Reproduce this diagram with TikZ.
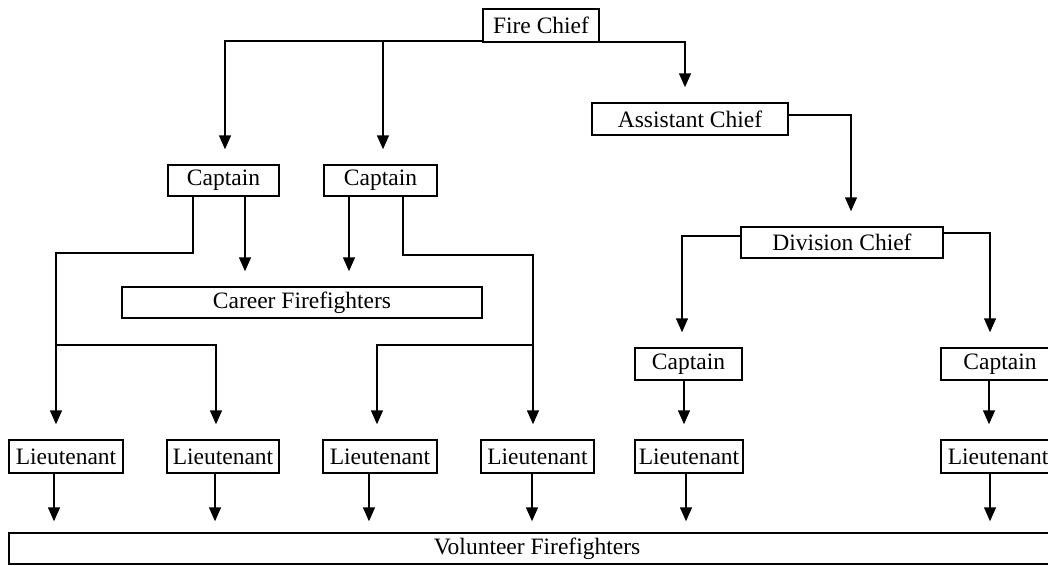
\documentclass[tikz,border=0pt]{standalone}
\usepackage{fontspec}
\setmainfont{Liberation Serif}
\usetikzlibrary{arrows.meta}
\begin{document}
\begin{tikzpicture}[x=1pt,y=-1pt,
  box/.style={draw, line width=1.5pt, inner sep=0pt, minimum height=31pt,
    font=\fontsize{23.5}{26}\selectfont},
  arr/.style={line width=1.5pt, -{Triangle[width=12pt,length=14pt]}, shorten >=15pt},
  arrv/.style={arr, shorten >=11pt}]
\useasboundingbox (0,0) rectangle (1048,565);
\fill[white] (0,0) rectangle (1048,565);
% nodes
\node[box, minimum width=116pt, minimum height=33pt] (fire) at (541,25.5) {Fire Chief};
\node[box, minimum width=196pt, minimum height=32pt] (asst) at (690,119) {Assistant Chief};
\node[box, minimum width=111pt] (cap1) at (223.5,180.5) {Captain};
\node[box, minimum width=113pt] (cap2) at (380.5,180.5) {Captain};
\node[box, minimum width=202pt] (div) at (842,242.5) {Division Chief};
\node[box, minimum width=360pt] (career) at (302,302.5) {Career Firefighters};
\node[box, minimum width=107pt, minimum height=32pt] (cap3) at (688.5,364) {Captain};
\node[box, minimum width=118pt, minimum height=32pt] (cap4) at (1000,364) {Captain};
\node[box, minimum width=114pt, minimum height=33pt] (lt1) at (66,456.5) {Lieutenant};
\node[box, minimum width=112pt, minimum height=33pt] (lt2) at (223,456.5) {Lieutenant};
\node[box, minimum width=114pt, minimum height=33pt] (lt3) at (380,456.5) {Lieutenant};
\node[box, minimum width=113pt, minimum height=33pt] (lt4) at (537.5,456.5) {Lieutenant};
\node[box, minimum width=108pt, minimum height=33pt] (lt5) at (689,456.5) {Lieutenant};
\node[box, minimum width=114pt, minimum height=33pt] (lt6) at (998,456.5) {Lieutenant};
\node[box, minimum width=1056pt] (vol) at (537,548.5) {Volunteer Firefighters};
% junction coordinates
\coordinate (fl) at ([yshift=2pt]fire.south west);
\coordinate (j1) at (193,253);
\coordinate (j2) at (56,253);
\coordinate (b1) at (56,345);
\coordinate (b2) at (216,345);
\coordinate (r1) at (403,255);
\coordinate (r2) at (533,255);
\coordinate (r3) at (533,345);
\coordinate (r4) at (377,345);
% top level
\draw[arr] (fl) -| ([xshift=1.5pt]cap1.north);
\draw[arr] ([xshift=2.5pt]cap2.north |- fl) -- ([xshift=2.5pt]cap2.north);
\draw[arr] ([yshift=1pt]fire.south east) -| ([xshift=-5pt]asst.north);
\draw[arr] ([yshift=4pt]asst.east) -| ([xshift=9pt]div.north);
\draw[arr] ([yshift=6.5pt]div.west) -| ([xshift=-6.5pt]cap3.north);
\draw[arr] ([yshift=9.5pt]div.east) -| ([xshift=-10pt]cap4.north);
% captains to career
\draw[arr] ([xshift=21.5pt]cap1.south) -- ([xshift=21.5pt]cap1.south |- career.north);
\draw[arr] ([xshift=-31.5pt]cap2.south) -- ([xshift=-31.5pt]cap2.south |- career.north);
% captains to lieutenants
\draw[arr] (cap1.south -| j1) -- (j1) -- (j2) -- (lt1.north -| j2);
\draw[arr] (b1) -- (b2) -- (lt2.north -| b2);
\draw[arr] (cap2.south -| r1) -- (r1) -- (r2) -- (lt4.north -| r2);
\draw[arr] (r3) -- (r4) -- (lt3.north -| r4);
\draw[arr] ([xshift=-4.5pt]cap3.south) -- ([xshift=-4.5pt]cap3.south |- lt5.north);
\draw[arr] ([xshift=-11pt]cap4.south) -- ([xshift=-11pt]cap4.south |- lt6.north);
% lieutenants to volunteers
\draw[arrv] ([xshift=-12pt]lt1.south) -- ([xshift=-12pt]lt1.south |- vol.north);
\draw[arrv] ([xshift=-8pt]lt2.south) -- ([xshift=-8pt]lt2.south |- vol.north);
\draw[arrv] ([xshift=-11pt]lt3.south) -- ([xshift=-11pt]lt3.south |- vol.north);
\draw[arrv] ([xshift=-5.5pt]lt4.south) -- ([xshift=-5.5pt]lt4.south |- vol.north);
\draw[arrv] ([xshift=-3pt]lt5.south) -- ([xshift=-3pt]lt5.south |- vol.north);
\draw[arrv] ([xshift=-8pt]lt6.south) -- ([xshift=-8pt]lt6.south |- vol.north);
\end{tikzpicture}
\end{document}
